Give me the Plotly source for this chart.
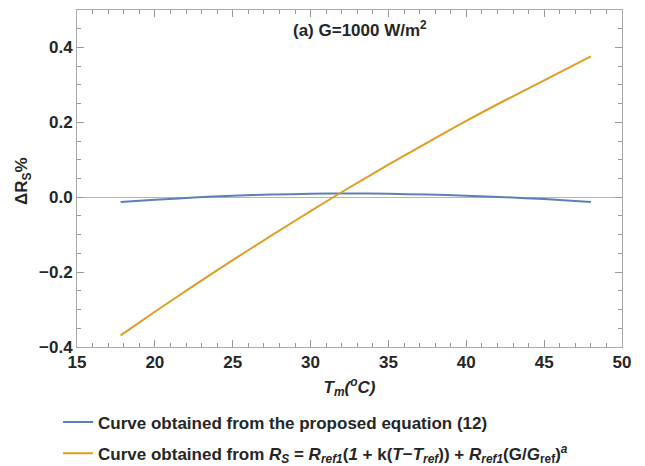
import plotly.graph_objects as go

temps = [17.8, 20, 22.5, 25, 27.5, 30, 32.5, 35, 37.5, 40, 42.5, 45, 48]
proposed = [-0.013, -0.007, -0.001, 0.004, 0.007, 0.009, 0.010, 0.009, 0.007, 0.004, 0.000, -0.005, -0.013]
reference = [-0.369, -0.306, -0.236, -0.168, -0.102, -0.037, 0.026, 0.087, 0.146, 0.204, 0.259, 0.312, 0.376]

x_ticks = [15, 20, 25, 30, 35, 40, 45, 50]
y_ticks = [-0.4, -0.2, 0.0, 0.2, 0.4]
y_tick_text = ["\u22120.4", "\u22120.2", "0.0", "0.2", "0.4"]

name1 = "Curve obtained from the proposed equation (12)"
name2 = ("Curve obtained from <i>R<sub>S</sub></i> = <i>R<sub>ref1</sub></i>(<i>1</i> + k(<i>T</i>\u2212<i>T<sub>ref</sub></i>))"
         " + <i>R<sub>ref1</sub></i>(G/<i>G</i><sub>ref</sub>)<sup><i>a</i></sup>")

font_family = "Liberation Sans, Arial, sans-serif"
txt = "#262626"
fs = 17

fig = go.Figure()
fig.add_trace(go.Scatter(x=temps, y=proposed, mode="lines", name=name1,
                         line=dict(color="#5E81B5", width=2, shape="spline", smoothing=0.8), legendgroup="a"))
fig.add_trace(go.Scatter(x=temps, y=reference, mode="lines", name=name2,
                         line=dict(color="#E19C24", width=2, shape="spline", smoothing=0.8), legendgroup="b"))

axis_common = dict(
    showgrid=False, showline=True, linecolor="#aaaaaa", linewidth=1,
    mirror="ticks", ticks="inside", ticklen=7, tickcolor="#999999", tickwidth=1,
    tickfont=dict(family=font_family, size=fs, color=txt, weight="bold"),
)

fig.update_xaxes(range=[15, 50], tickvals=x_ticks, zeroline=False,
                 minor=dict(dtick=1, ticks="inside", ticklen=4, tickcolor="#999999"),
                 title=dict(text="<i>T<sub>m</sub></i><i>(<sup>o</sup>C)</i>",
                            font=dict(family=font_family, size=fs, color=txt, weight="bold"),
                            standoff=9),
                 **axis_common)
fig.update_yaxes(range=[-0.4, 0.5], tickvals=y_ticks, ticktext=y_tick_text,
                 zeroline=True, zerolinecolor="#b5b5b5", zerolinewidth=1.3,
                 minor=dict(dtick=0.05, ticks="inside", ticklen=4, tickcolor="#999999"),
                 **axis_common)

plot_h = 466 - 10 - 119
plot_w = 645 - 77 - 23

fig.add_annotation(x=0.52, y=1 - (29 - 10) / plot_h, xref="paper", yref="paper",
                   xanchor="center", yanchor="middle",
                   text="(a) G=1000 W/m<sup>2</sup>", showarrow=False,
                   font=dict(family=font_family, size=fs, color=txt, weight="bold"))

fig.add_annotation(x=(23 - 77) / plot_w, y=1 - (181 - 10) / plot_h, xref="paper", yref="paper",
                   xanchor="center", yanchor="middle", textangle=-90,
                   text="\u0394R<sub>S</sub>%", showarrow=False,
                   font=dict(family=font_family, size=fs, color=txt, weight="bold"))

fig.update_layout(
    width=645, height=466,
    margin=dict(l=77, r=23, t=10, b=119, autoexpand=False),
    plot_bgcolor="white", paper_bgcolor="white",
    showlegend=True,
    legend=dict(xref="container", yref="container", x=0.09, y=0.132, xanchor="left", yanchor="top",
                traceorder="grouped", tracegroupgap=6,
                font=dict(family=font_family, size=fs, color=txt, weight="bold"),
                bgcolor="rgba(0,0,0,0)"),
)

fig.write_html("out.html")
